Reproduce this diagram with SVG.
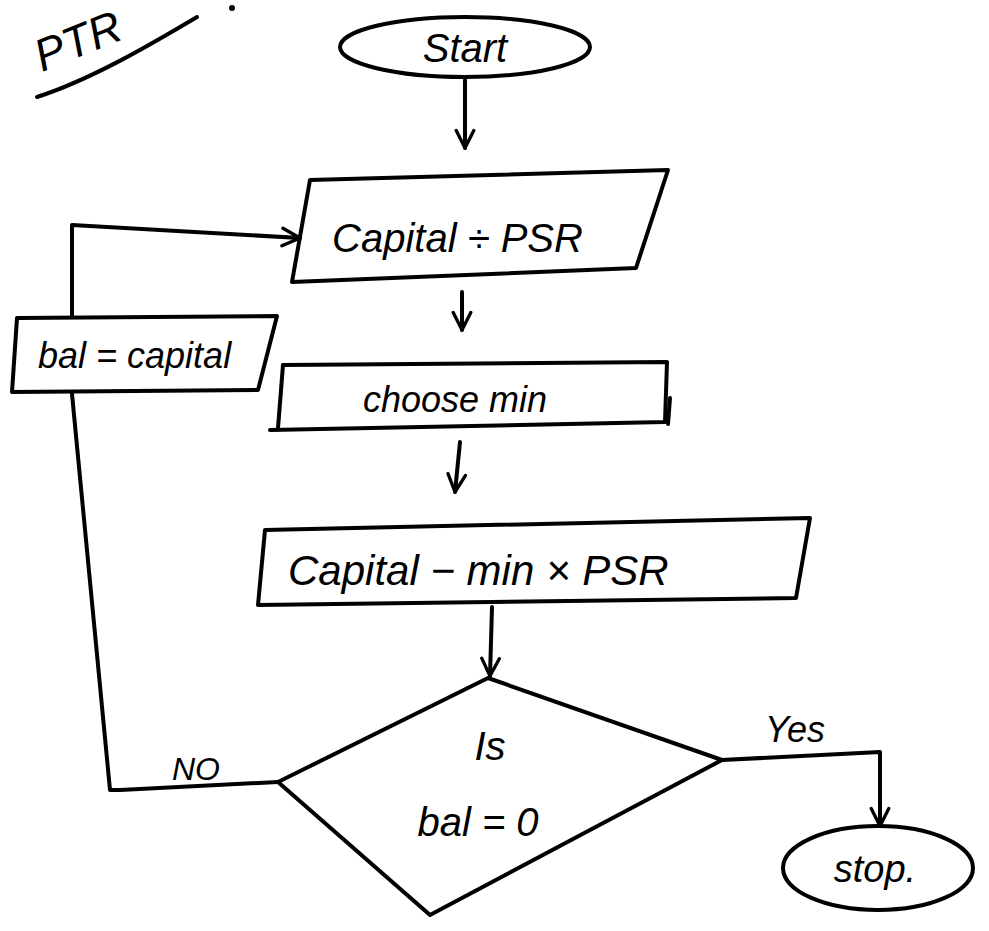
<svg xmlns="http://www.w3.org/2000/svg" width="989" height="931" viewBox="0 0 989 931">
<defs>
<style>
.s{fill:none;stroke:#000;stroke-width:4;stroke-linecap:round;stroke-linejoin:round}
.t{font-family:"Liberation Sans",Arial,sans-serif;font-style:italic;fill:#000}
</style>
<marker id="ah" viewBox="0 0 20 20" refX="18" refY="10" markerWidth="22" markerHeight="22" markerUnits="userSpaceOnUse" orient="auto">
<path d="M2 2 L18 10 L2 18" fill="none" stroke="#000" stroke-width="3" stroke-linecap="round" stroke-linejoin="round"/>
</marker>
</defs>
<rect width="989" height="931" fill="#fff"/>
<g id="title">
<text class="t" x="42" y="72" font-size="45" transform="rotate(-22 42 72)">PTR</text>
<path class="s" d="M37 97 C90 80 150 45 197 17"/>
<circle cx="232" cy="8" r="3" fill="#000"/>
</g>
<g id="start">
<ellipse class="s" cx="465" cy="47" rx="125" ry="30"/>
<text class="t" x="465" y="62" font-size="40" text-anchor="middle">Start</text>
</g>
<g id="capital-div">
<path class="s" d="M310 180 L668 170 L636 268 L292 282 Z"/>
<text class="t" x="332" y="252" font-size="40">Capital ÷ PSR</text>
</g>
<g id="bal-capital">
<path class="s" d="M17 318 L277 316 L258 390 L12 392 Z"/>
<text class="t" x="38" y="368" font-size="36">bal = capital</text>
</g>
<g id="choose-min">
<path class="s" d="M283 365 L667 362 L665 422 L270 430"/>
<path class="s" d="M283 365 L278 428"/>
<path class="s" d="M670 398 L668 424"/>
<text class="t" x="455" y="412" font-size="36" text-anchor="middle">choose min</text>
</g>
<g id="capital-min">
<path class="s" d="M265 530 L810 518 L796 598 L258 605 Z"/>
<text class="t" x="288" y="585" font-size="42">Capital − min × PSR</text>
</g>
<g id="decision">
<path class="s" d="M488 678 L722 760 L430 915 L278 782 Z"/>
<text class="t" x="490" y="760" font-size="40" text-anchor="middle">Is</text>
<text class="t" x="478" y="836" font-size="40" text-anchor="middle">bal = 0</text>
</g>
<g id="stop">
<ellipse class="s" cx="878" cy="868" rx="95" ry="42"/>
<text class="t" x="875" y="882" font-size="38" text-anchor="middle">stop.</text>
</g>
<g id="connectors">
<path class="s" d="M465 80 L465 148" marker-end="url(#ah)"/>
<path class="s" d="M462 292 L462 330" marker-end="url(#ah)"/>
<path class="s" d="M460 442 L455 492" marker-end="url(#ah)"/>
<path class="s" d="M492 607 L490 676" marker-end="url(#ah)"/>
<path class="s" d="M72 316 L72 225 L300 238" marker-end="url(#ah)"/>
<path class="s" d="M278 782 L120 790 L110 790 L72 394"/>
<path class="s" d="M722 760 L880 752 L880 826" marker-end="url(#ah)"/>
<text class="t" x="172" y="780" font-size="32">NO</text>
<text class="t" x="765" y="742" font-size="36">Yes</text>
</g>
</svg>
